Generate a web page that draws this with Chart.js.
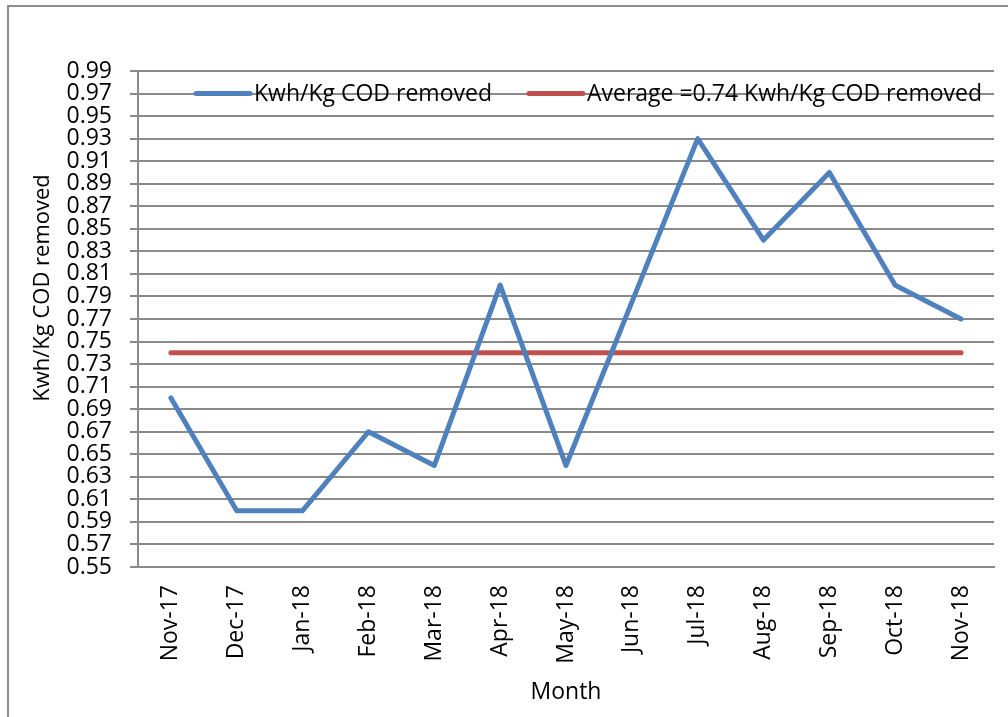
<!DOCTYPE html>
<html>
<head>
<meta charset="utf-8">
<script src="https://cdn.jsdelivr.net/npm/chart.js@4"></script>
<style>
html,body{margin:0;padding:0;background:#ffffff;}
#wrap{position:relative;width:1008px;height:717px;}
</style>
</head>
<body>
<div id="wrap"><canvas id="c" width="1008" height="717"></canvas></div>
<script>
const months = ['Nov-17','Dec-17','Jan-18','Feb-18','Mar-18','Apr-18','May-18','Jun-18','Jul-18','Aug-18','Sep-18','Oct-18','Nov-18'];
const kwhPerKgCod = [0.70,0.60,0.60,0.67,0.64,0.80,0.64,0.785,0.93,0.84,0.90,0.80,0.77];
const averageValues = [0.74,0.74,0.74,0.74,0.74,0.74,0.74,0.74,0.74,0.74,0.74,0.74,0.74];
const yTickValues = [0.55,0.57,0.59,0.61,0.63,0.65,0.67,0.69,0.71,0.73,0.75,0.77,0.79,0.81,0.83,0.85,0.87,0.89,0.91,0.93,0.95,0.97,0.99];
const seriesNames = ['Kwh/Kg COD removed','Average =0.74 Kwh/Kg COD removed'];
const xAxisTitle = 'Month';
const yAxisTitle = 'Kwh/Kg COD removed';

const FONT = "'Open Sans', sans-serif";
const GRID = '#8a8a8a';

const frame = {
  id: 'frame',
  beforeDraw(chart) {
    const ctx = chart.ctx;
    ctx.save();
    ctx.fillStyle = '#ffffff';
    ctx.fillRect(0, 0, chart.width, chart.height);
    ctx.strokeStyle = '#8c8c8c';
    ctx.lineWidth = 2;
    ctx.beginPath();
    ctx.moveTo(8, chart.height + 5);
    ctx.lineTo(8, 6);
    ctx.lineTo(chart.width + 5, 6);
    ctx.stroke();
    ctx.restore();
  }
};

const yTitlePlugin = {
  id: 'yTitlePlugin',
  afterDraw(chart) {
    const ctx = chart.ctx;
    const area = chart.chartArea;
    ctx.save();
    ctx.translate(43, (area.top + area.bottom) / 2 - 31);
    ctx.rotate(-Math.PI / 2);
    ctx.font = '22px ' + FONT;
    ctx.fillStyle = '#000000';
    ctx.textAlign = 'center';
    ctx.textBaseline = 'middle';
    ctx.fillText(yAxisTitle, 0, 0);
    ctx.restore();
  }
};

const innerLegend = {
  id: 'innerLegend',
  afterDraw(chart) {
    const ctx = chart.ctx;
    const area = chart.chartArea;
    const y = chart.scales.y.getPixelForValue(0.97);
    let x = area.left + 58;
    ctx.save();
    ctx.font = '23px ' + FONT;
    ctx.textBaseline = 'middle';
    ctx.fillStyle = '#000000';
    chart.data.datasets.forEach((ds, i) => {
      ctx.strokeStyle = ds.borderColor;
      ctx.lineWidth = 5;
      ctx.lineCap = 'round';
      ctx.beginPath();
      ctx.moveTo(x, y);
      ctx.lineTo(x + 54, y);
      ctx.stroke();
      ctx.fillText(ds.label, x + 58, y + 1);
      x += 58 + ctx.measureText(ds.label).width + 37;
    });
    ctx.restore();
  }
};

new Chart(document.getElementById('c'), {
  type: 'line',
  data: {
    labels: months,
    datasets: [
      {
        label: seriesNames[0],
        data: kwhPerKgCod,
        borderColor: '#4f81bd',
        backgroundColor: '#4f81bd',
        borderWidth: 5,
        pointRadius: 0,
        tension: 0,
        borderCapStyle: 'round',
        borderJoinStyle: 'round'
      },
      {
        label: seriesNames[1],
        data: averageValues,
        borderColor: '#c0504d',
        backgroundColor: '#c0504d',
        borderWidth: 5,
        pointRadius: 0,
        tension: 0,
        borderCapStyle: 'round',
        borderJoinStyle: 'round'
      }
    ]
  },
  options: {
    responsive: false,
    animation: false,
    devicePixelRatio: 1,
    layout: { padding: { left: 0, top: 71, right: 14, bottom: 0 } },
    plugins: {
      legend: { display: false },
      tooltip: { enabled: false },
      title: { display: false }
    },
    scales: {
      x: {
        type: 'category',
        offset: true,
        grid: { display: false, drawTicks: false },
        border: { display: true, color: GRID, width: 2 },
        ticks: {
          autoSkip: false,
          minRotation: 90,
          maxRotation: 90,
          padding: 18,
          color: '#000000',
          font: { family: FONT, size: 23 }
        },
        title: {
          display: true,
          text: xAxisTitle,
          color: '#000000',
          font: { family: FONT, size: 23 },
          padding: { top: 0, bottom: 11 }
        },
        afterFit(scale) { scale.height = 150; }
      },
      y: {
        min: 0.55,
        max: 0.99,
        grid: { color: GRID, lineWidth: 2, tickLength: 8, drawTicks: true },
        border: { display: true, color: GRID, width: 2 },
        afterBuildTicks(scale) { scale.ticks = yTickValues.map(v => ({ value: v })); },
        ticks: {
          autoSkip: false,
          padding: 18,
          color: '#000000',
          font: { family: FONT, size: 23 },
          callback: (v) => Number(v).toFixed(2)
        },
        title: { display: false },
        afterFit(scale) { scale.width = 138; }
      }
    }
  },
  plugins: [frame, yTitlePlugin, innerLegend]
});
</script>
</body>
</html>
